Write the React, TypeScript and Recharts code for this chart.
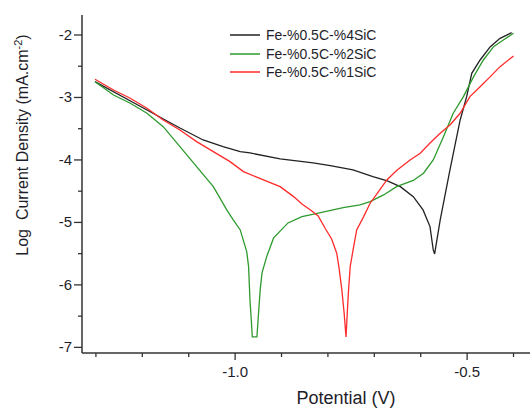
import React from "react";
import { LineChart, Line, XAxis, YAxis } from "recharts";

// ---- data ----
const sic4Potential = [-1.302, -1.19, -1.119, -1.069, -1.026, -0.989, -0.968, -0.903, -0.832, -0.795, -0.746, -0.703, -0.672, -0.644, -0.616, -0.595, -0.58, -0.573, -0.57, -0.558, -0.537, -0.515, -0.501, -0.49, -0.472, -0.45, -0.429, -0.404];
const sic4LogI = [-2.747, -3.2, -3.488, -3.68, -3.787, -3.867, -3.888, -3.984, -4.048, -4.091, -4.16, -4.267, -4.336, -4.427, -4.587, -4.8, -5.067, -5.44, -5.504, -4.96, -4.16, -3.36, -2.987, -2.613, -2.4, -2.187, -2.053, -1.963];

const sic2Potential = [-1.302, -1.262, -1.226, -1.19, -1.155, -1.119, -1.083, -1.047, -1.018, -1.004, -0.989, -0.975, -0.971, -0.968, -0.964, -0.963, -0.953, -0.95, -0.946, -0.942, -0.932, -0.917, -0.886, -0.856, -0.828, -0.799, -0.767, -0.731, -0.709, -0.68, -0.652, -0.616, -0.594, -0.573, -0.551, -0.53, -0.508, -0.486, -0.465, -0.443, -0.422, -0.4];
const sic2LogI = [-2.747, -2.96, -3.093, -3.253, -3.467, -3.787, -4.107, -4.427, -4.8, -4.96, -5.12, -5.467, -5.707, -6.24, -6.693, -6.832, -6.832, -6.507, -6.08, -5.808, -5.547, -5.248, -5.008, -4.907, -4.864, -4.816, -4.763, -4.72, -4.667, -4.56, -4.427, -4.328, -4.213, -4.0, -3.627, -3.253, -2.987, -2.667, -2.4, -2.187, -2.08, -1.973];

const sic1Potential = [-1.302, -1.262, -1.226, -1.19, -1.155, -1.119, -1.083, -1.047, -1.011, -0.982, -0.939, -0.903, -0.874, -0.856, -0.836, -0.821, -0.806, -0.792, -0.781, -0.776, -0.77, -0.765, -0.761, -0.756, -0.752, -0.745, -0.738, -0.723, -0.709, -0.691, -0.673, -0.652, -0.623, -0.601, -0.58, -0.558, -0.537, -0.515, -0.494, -0.472, -0.45, -0.429, -0.4];
const sic1LogI = [-2.709, -2.88, -3.013, -3.173, -3.36, -3.52, -3.707, -3.867, -4.027, -4.187, -4.32, -4.427, -4.587, -4.704, -4.808, -4.896, -5.093, -5.264, -5.493, -5.728, -6.08, -6.453, -6.832, -6.133, -5.707, -5.408, -5.12, -4.907, -4.693, -4.507, -4.32, -4.168, -4.0, -3.893, -3.728, -3.573, -3.44, -3.253, -2.987, -2.827, -2.667, -2.507, -2.336];

const seriesNames = ["Fe-%0.5C-%4SiC", "Fe-%0.5C-%2SiC", "Fe-%0.5C-%1SiC"];
const xTicks = [-1.3, -1.2, -1.1, -1.0, -0.9, -0.8, -0.7, -0.6, -0.5, -0.4];
const xLabeled = [-1.0, -0.5];
const yTicks = [-7, -6.5, -6, -5.5, -5, -4.5, -4, -3.5, -3, -2.5, -2];

const zip = (xs: number[], ys: number[]) => xs.map((x, i) => ({ x, y: ys[i] }));
const sic4Data = zip(sic4Potential, sic4LogI);
const sic2Data = zip(sic2Potential, sic2LogI);
const sic1Data = zip(sic1Potential, sic1LogI);

const COLORS = ["#222222", "#2e9a2e", "#ff2a2a"];
const FONT = "'Liberation Sans', Arial, sans-serif";
const TEXT = "#1e1e2a";

const XTick = (props: any) => {
  const { x, y, payload } = props;
  const v = payload.value;
  const major = xLabeled.some((m) => Math.abs(m - v) < 1e-6);
  return (
    <g>
      <line x1={x} x2={x} y1={y} y2={y + (major ? 7 : 4)} stroke="#333" strokeWidth={1.3} />
      {major && (
        <text x={x} y={y + 24} textAnchor="middle" fontSize={15} fontFamily={FONT} fill={TEXT}>
          {v.toFixed(1)}
        </text>
      )}
    </g>
  );
};

const YTick = (props: any) => {
  const { x, y, payload } = props;
  const v = payload.value;
  const major = Number.isInteger(v);
  return (
    <g>
      <line x1={x - (major ? 8 : 4)} x2={x} y1={y} y2={y} stroke="#333" strokeWidth={1.3} />
      {major && (
        <text x={x - 10} y={y + 5} textAnchor="end" fontSize={15} fontFamily={FONT} fill={TEXT}>
          {String(v)}
        </text>
      )}
    </g>
  );
};

const LegendBox = () => (
  <div
    style={{
      position: "absolute",
      left: 230,
      top: 26,
      fontFamily: FONT,
      fontSize: 14,
      color: TEXT,
      lineHeight: "18.5px",
    }}
  >
    {seriesNames.map((n, i) => (
      <div key={n} style={{ display: "flex", alignItems: "center", height: 18.5 }}>
        <svg width={36} height={10} style={{ display: "block" }}>
          <line x1={0} x2={30} y1={5} y2={5} stroke={COLORS[i]} strokeWidth={1.5} />
        </svg>
        <span>{n}</span>
      </div>
    ))}
  </div>
);

export default function App() {
  return (
    <div style={{ position: "fixed", left: 0, top: 0, width: 530, height: 410, overflow: "hidden", background: "#fff" }}>
      <LineChart width={560} height={410} margin={{ top: 15, right: 14, left: 0, bottom: 0 }}>
        <XAxis
          dataKey="x"
          type="number"
          domain={[-1.33, -0.33]}
          ticks={xTicks}
          allowDataOverflow
          height={57}
          tickSize={0}
          tickMargin={0}
          tickLine={false}
          tick={<XTick />}
          axisLine={{ stroke: "#333", strokeWidth: 1.5 }}
          label={() => (
            <text x={346} y={404} textAnchor="middle" fontSize={18} fontFamily={FONT} fill={TEXT}>
              Potential (V)
            </text>
          )}
        />
        <XAxis
          xAxisId="top"
          orientation="top"
          type="number"
          domain={[-1.33, -0.33]}
          height={0}
          tick={false}
          tickLine={false}
          axisLine={{ stroke: "#333", strokeWidth: 1.5 }}
        />
        <YAxis
          type="number"
          domain={[-7.09, -1.68]}
          ticks={yTicks}
          allowDataOverflow
          width={82}
          tickSize={0}
          tickMargin={0}
          tickLine={false}
          tick={<YTick />}
          axisLine={{ stroke: "#333", strokeWidth: 1.5 }}
          label={() => (
            <text
              x={28}
              y={145}
              transform="rotate(-90 28 145)"
              textAnchor="middle"
              fontSize={16}
              fontFamily={FONT}
              fill={TEXT}
            >
              {"Log\u00a0\u00a0Current Density (mA.cm"}
              <tspan dy={-6} fontSize={11}>-2</tspan>
              <tspan dy={6}>)</tspan>
            </text>
          )}
        />
        <Line data={sic4Data} dataKey="y" name={seriesNames[0]} stroke={COLORS[0]} strokeWidth={1.3} dot={false} isAnimationActive={false} />
        <Line data={sic2Data} dataKey="y" name={seriesNames[1]} stroke={COLORS[1]} strokeWidth={1.3} dot={false} isAnimationActive={false} />
        <Line data={sic1Data} dataKey="y" name={seriesNames[2]} stroke={COLORS[2]} strokeWidth={1.3} dot={false} isAnimationActive={false} />
      </LineChart>
      <LegendBox />
    </div>
  );
}
